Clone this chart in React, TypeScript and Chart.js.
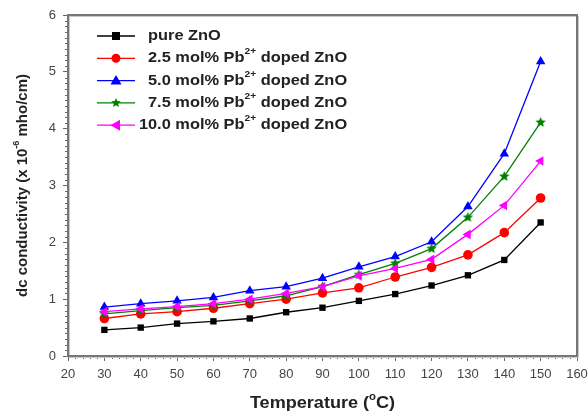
import React, { useEffect, useRef } from "react";
import { Chart, registerables } from "chart.js";

Chart.register(...registerables);

const temperatures = [30, 40, 50, 60, 70, 80, 90, 100, 110, 120, 130, 140, 150];
const pureZnO = [0.46, 0.5, 0.57, 0.61, 0.66, 0.77, 0.85, 0.97, 1.09, 1.24, 1.42, 1.69, 2.35];
const pb25 = [0.66, 0.74, 0.78, 0.84, 0.92, 1.0, 1.11, 1.2, 1.39, 1.56, 1.78, 2.17, 2.78];
const pb50 = [0.86, 0.92, 0.97, 1.03, 1.15, 1.22, 1.37, 1.57, 1.75, 2.01, 2.63, 3.56, 5.18];
const pb75 = [0.74, 0.8, 0.85, 0.89, 0.97, 1.06, 1.22, 1.43, 1.63, 1.89, 2.44, 3.16, 4.11];
const pb100 = [0.78, 0.83, 0.87, 0.92, 1.0, 1.1, 1.22, 1.41, 1.54, 1.7, 2.14, 2.65, 3.43];

// labels: text between ^...^ is superscript
const seriesLabels = [
  "pure ZnO",
  "2.5 mol% Pb^2+^ doped ZnO",
  "5.0 mol% Pb^2+^ doped ZnO",
  "7.5 mol% Pb^2+^ doped ZnO",
  "10.0 mol% Pb^2+^ doped ZnO",
];
const seriesColors = ["#000000", "#ff0000", "#0000ff", "#008000", "#ff00ff"];
const xTitle = "Temperature (^o^C)";
const yTitle = "dc conductivity (x 10^-6^ mho/cm)";

const FONT = '"Liberation Sans", Arial, sans-serif';
const STRETCH = 1.13;

function makeStar(color: string, r: number) {
  const c = document.createElement("canvas");
  const s = Math.ceil(r * 2 + 2);
  c.width = s;
  c.height = s;
  const g = c.getContext("2d")!;
  g.fillStyle = color;
  g.beginPath();
  for (let i = 0; i < 10; i++) {
    const rad = i % 2 === 0 ? r : r * 0.45;
    const ang = -Math.PI / 2 + (i * Math.PI) / 5;
    const px = s / 2 + rad * Math.cos(ang);
    const py = s / 2 + rad * Math.sin(ang);
    if (i === 0) g.moveTo(px, py);
    else g.lineTo(px, py);
  }
  g.closePath();
  g.fill();
  return c;
}

function parseRich(s: string) {
  const parts: { t: string; sup: boolean }[] = [];
  s.split("^").forEach((t, i) => {
    if (t) parts.push({ t, sup: i % 2 === 1 });
  });
  return parts;
}

function richWidth(ctx: CanvasRenderingContext2D, s: string, size: number, sx = 1) {
  let w = 0;
  for (const p of parseRich(s)) {
    ctx.font = `bold ${p.sup ? Math.round(size * 0.62) : size}px ${FONT}`;
    w += ctx.measureText(p.t).width;
  }
  return w * sx;
}

function drawRich(ctx: CanvasRenderingContext2D, s: string, x: number, y: number, size: number, sx = 1) {
  ctx.save();
  ctx.translate(x, y);
  ctx.scale(sx, 1);
  let cx = 0;
  ctx.textBaseline = "middle";
  ctx.textAlign = "left";
  for (const p of parseRich(s)) {
    const fs = p.sup ? Math.round(size * 0.62) : size;
    ctx.font = `bold ${fs}px ${FONT}`;
    ctx.fillText(p.t, cx, p.sup ? -size * 0.45 : 0);
    cx += ctx.measureText(p.t).width;
  }
  ctx.restore();
}

function drawMarker(ctx: CanvasRenderingContext2D, i: number, x: number, y: number, color: string) {
  ctx.fillStyle = color;
  ctx.beginPath();
  if (i === 0) {
    ctx.rect(x - 4, y - 4, 8, 8);
  } else if (i === 1) {
    ctx.arc(x, y, 4.5, 0, Math.PI * 2);
  } else if (i === 2) {
    ctx.moveTo(x, y - 5.5);
    ctx.lineTo(x + 5.5, y + 4);
    ctx.lineTo(x - 5.5, y + 4);
    ctx.closePath();
  } else if (i === 3) {
    for (let k = 0; k < 10; k++) {
      const rad = k % 2 === 0 ? 5 : 2.25;
      const ang = -Math.PI / 2 + (k * Math.PI) / 5;
      const px = x + rad * Math.cos(ang);
      const py = y + rad * Math.sin(ang);
      if (k === 0) ctx.moveTo(px, py);
      else ctx.lineTo(px, py);
    }
    ctx.closePath();
  } else {
    ctx.moveTo(x - 5.5, y);
    ctx.lineTo(x + 4, y - 5.5);
    ctx.lineTo(x + 4, y + 5.5);
    ctx.closePath();
  }
  ctx.fill();
}

const decorPlugin = {
  id: "decor",
  afterDraw(chart: any) {
    const { ctx, chartArea: a, scales } = chart;
    const xs = scales.x;
    const ys = scales.y;
    ctx.save();
    // minor ticks
    ctx.strokeStyle = "#666";
    ctx.lineWidth = 1;
    ctx.beginPath();
    for (let v = 20; v <= 160; v += 2) {
      if (v % 10 === 0) continue;
      const px = Math.round(xs.getPixelForValue(v)) + 0.5;
      ctx.moveTo(px, a.bottom);
      ctx.lineTo(px, a.bottom + 3);
    }
    for (let k = 0; k <= 60; k++) {
      if (k % 10 === 0) continue;
      const py = Math.round(ys.getPixelForValue(k / 10)) + 0.5;
      ctx.moveTo(a.left, py);
      ctx.lineTo(a.left - 3, py);
    }
    ctx.stroke();
    // frame
    ctx.strokeStyle = "#c8c8c8";
    ctx.lineWidth = 1;
    ctx.strokeRect(a.left + 1.5, a.top + 1.5, a.right - a.left, a.bottom - a.top);
    ctx.strokeStyle = "#777";
    ctx.lineWidth = 2;
    ctx.strokeRect(a.left, a.top, a.right - a.left, a.bottom - a.top);

    // legend
    const lx0 = a.left + 29;
    const lx1 = a.left + 67;
    chart.data.datasets.forEach((ds: any, i: number) => {
      const ly = a.top + 21 + i * 22.3;
      ctx.strokeStyle = ds.borderColor;
      ctx.lineWidth = 1.3;
      ctx.beginPath();
      ctx.moveTo(lx0, ly);
      ctx.lineTo(lx1, ly);
      ctx.stroke();
      drawMarker(ctx, i, (lx0 + lx1) / 2, ly, ds.borderColor);
      ctx.fillStyle = "#222";
      const lbl = seriesLabels[i];
      ctx.font = `bold 14.5px ${FONT}`;
      const lead = lbl.split(" ")[0];
      const shift = lead.length > 3 && /^\d/.test(lead) ? ctx.measureText("0").width * STRETCH : 0;
      drawRich(ctx, lbl, lx1 + 13 - shift, ly, 14.5, STRETCH);
    });

    // axis titles
    ctx.fillStyle = "#222";
    const xw = richWidth(ctx, xTitle, 16, STRETCH);
    drawRich(ctx, xTitle, (a.left + a.right) / 2 - xw / 2, 404, 16, STRETCH);
    ctx.save();
    ctx.translate(23, (a.top + a.bottom) / 2);
    ctx.rotate(-Math.PI / 2);
    const yw = richWidth(ctx, yTitle, 15);
    drawRich(ctx, yTitle, -yw / 2, 0, 15);
    ctx.restore();
    ctx.restore();
  },
};

export default function App() {
  const ref = useRef<HTMLCanvasElement | null>(null);
  useEffect(() => {
    document.body.style.margin = "0";
    const star = makeStar(seriesColors[3], 5.5);
    const series = [pureZnO, pb25, pb50, pb75, pb100];
    const styles: any[] = ["rect", "circle", "triangle", star, "triangle"];
    const rot = [0, 0, 0, 0, -90];
    const radii = [4.5, 4.8, 5.5, 5.5, 5.5];
    const chart = new Chart(ref.current!, {
      type: "line",
      data: {
        datasets: series.map((vals, i) => ({
          label: seriesLabels[i].replace(/\^/g, ""),
          data: temperatures.map((t, j) => ({ x: t, y: vals[j] })),
          borderColor: seriesColors[i],
          backgroundColor: seriesColors[i],
          borderWidth: 1.3,
          pointStyle: styles[i],
          pointRotation: rot[i],
          pointRadius: radii[i],
          pointBorderWidth: 0,
          order: 5 - i,
        })),
      },
      options: {
        responsive: false,
        animation: false,
        layout: { padding: { top: 15, right: 11, left: 0, bottom: 0 } },
        plugins: { legend: { display: false }, tooltip: { enabled: false } },
        scales: {
          x: {
            type: "linear",
            min: 20,
            max: 160,
            ticks: { stepSize: 10, color: "#444", font: { family: FONT, size: 13 }, padding: 6, maxRotation: 0 },
            grid: { drawOnChartArea: false, tickLength: 5, color: "#666" },
            border: { display: false },
            afterFit: (s: any) => {
              s.height = 58;
              s.paddingLeft = 0;
              s.paddingRight = 0;
            },
          },
          y: {
            min: 0,
            max: 6,
            ticks: { stepSize: 1, color: "#444", font: { family: FONT, size: 13 }, padding: 7 },
            grid: { drawOnChartArea: false, tickLength: 5, color: "#666" },
            border: { display: false },
            afterFit: (s: any) => {
              s.width = 68;
              s.paddingTop = 0;
              s.paddingBottom = 0;
            },
          },
        },
      },
      plugins: [decorPlugin],
    });
    return () => chart.destroy();
  }, []);
  return (
    <div style={{ width: 588, height: 414, background: "#fff" }}>
      <canvas ref={ref} width={588} height={414} />
    </div>
  );
}
